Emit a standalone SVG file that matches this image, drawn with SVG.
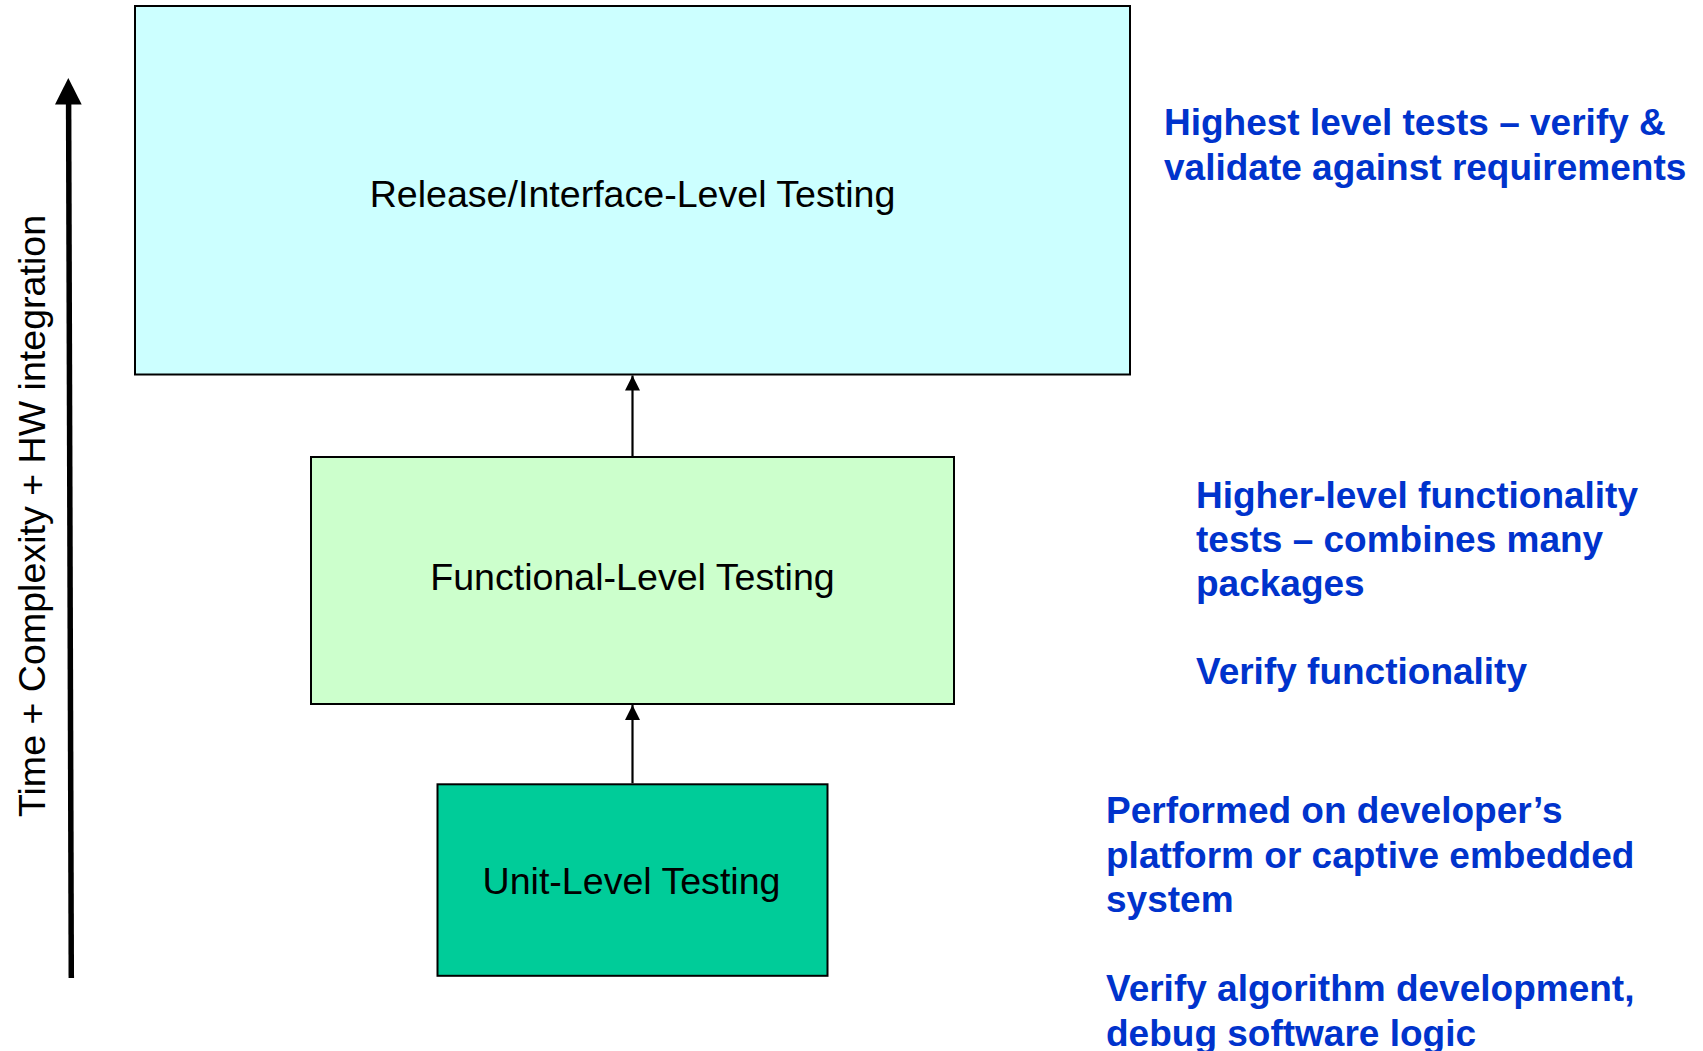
<svg xmlns="http://www.w3.org/2000/svg" width="1703" height="1051" viewBox="0 0 1703 1051">
  <style>
    .box { stroke: #000; stroke-width: 2; }
    .label { font-family: "Liberation Sans", Arial, sans-serif; font-size: 37.6px; fill: #000; text-anchor: middle; }
    .note { font-family: "Liberation Sans", Arial, sans-serif; font-size: 37px; font-weight: bold; fill: #0033CC; }
    .link { stroke: #000; stroke-width: 2.2; fill: none; }
    .axis { stroke: #000; stroke-width: 5.5; fill: none; }
  </style>
  <defs>
    <marker id="headSmall" markerUnits="userSpaceOnUse" markerWidth="16" markerHeight="16" viewBox="0 0 16 16" refX="15" refY="8" orient="auto">
      <path d="M0,0.5 L15,8 L0,15.5 Z" fill="#000"/>
    </marker>
  </defs>
  <rect width="1703" height="1051" fill="#fff"/>

  <!-- vertical axis: time + complexity + HW integration -->
  <g id="axis">
    <line class="axis" x1="71.3" y1="978" x2="68.6" y2="100"/>
    <polygon points="68.3,78 55,104.5 81.7,104.5" fill="#000"/>
    <text class="label" transform="translate(45,516) rotate(-90)" x="0" y="0">Time + Complexity + HW integration</text>
  </g>

  <!-- test levels -->
  <g id="release">
    <rect class="box" x="135" y="6" width="995" height="368.5" fill="#CCFFFF"/>
    <text class="label" x="632.5" y="206.7">Release/Interface-Level Testing</text>
  </g>
  <g id="functional">
    <rect class="box" x="311" y="457" width="643" height="247" fill="#CCFFCC"/>
    <text class="label" x="632.5" y="590">Functional-Level Testing</text>
  </g>
  <g id="unit">
    <rect class="box" x="437.5" y="784.3" width="390" height="191.5" fill="#00CC99"/>
    <text class="label" x="631.5" y="894.3">Unit-Level Testing</text>
  </g>

  <!-- connectors between levels -->
  <g id="connectors">
    <line class="link" x1="632.5" y1="456" x2="632.5" y2="375.5" marker-end="url(#headSmall)"/>
    <line class="link" x1="632.5" y1="783.3" x2="632.5" y2="705" marker-end="url(#headSmall)"/>
  </g>

  <!-- descriptions -->
  <g id="note-release">
    <text class="note" x="1164" y="135">Highest level tests – verify &amp;</text>
    <text class="note" x="1164" y="180">validate against requirements</text>
  </g>
  <g id="note-functional">
    <text class="note" x="1196" y="508">Higher-level functionality</text>
    <text class="note" x="1196" y="552">tests – combines many</text>
    <text class="note" x="1196" y="596">packages</text>
    <text class="note" x="1196" y="684">Verify functionality</text>
  </g>
  <g id="note-unit">
    <text class="note" x="1106" y="823">Performed on developer’s</text>
    <text class="note" x="1106" y="867.5">platform or captive embedded</text>
    <text class="note" x="1106" y="912">system</text>
    <text class="note" x="1106" y="1001">Verify algorithm development,</text>
    <text class="note" x="1106" y="1046">debug software logic</text>
  </g>
</svg>
